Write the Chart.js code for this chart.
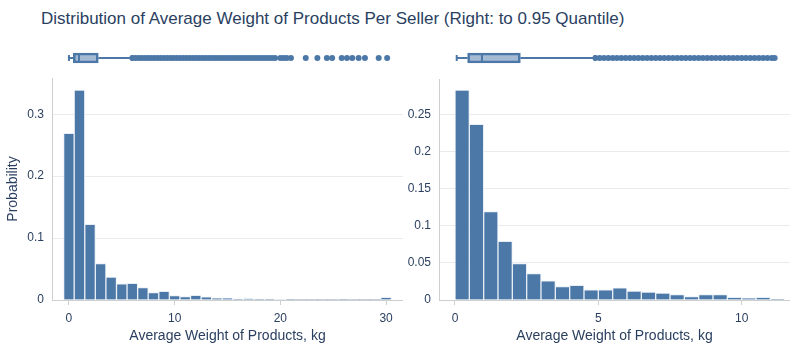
<!DOCTYPE html>
<html>
<head>
<meta charset="utf-8">
<script src="https://cdn.jsdelivr.net/npm/chart.js@4.4.0/dist/chart.umd.min.js"></script>
<style>
  body { margin: 0; background: #fff; width: 800px; height: 350px; position: relative; overflow: hidden;
         font-family: "Liberation Sans", Arial, sans-serif; }
  #title { position: absolute; left: 41px; top: 9px; font-size: 17px; line-height: 20px; color: #2a3f5f; white-space: nowrap; }
  .panel { position: absolute; }
</style>
</head>
<body>
<div id="title">Distribution of Average Weight of Products Per Seller (Right: to 0.95 Quantile)</div>
<div class="panel" style="left:52px;top:40px;width:351px;height:36px"><canvas id="boxLeft"></canvas></div>
<div class="panel" style="left:439px;top:40px;width:351px;height:36px"><canvas id="boxRight"></canvas></div>
<div class="panel" style="left:0;top:70px;width:403px;height:280px"><canvas id="histLeft"></canvas></div>
<div class="panel" style="left:400px;top:70px;width:390px;height:280px"><canvas id="histRight"></canvas></div>
<script>
// left panel: all sellers, 1 kg bins
const leftBins = [0, 1, 2, 3, 4, 5, 6, 7, 8, 9, 10, 11, 12, 13, 14, 15, 16, 17, 18, 19, 20,
  21, 22, 23, 24, 25, 26, 27, 28, 29, 30];
const leftProb = [0.269, 0.339, 0.122, 0.059, 0.037, 0.026, 0.027, 0.020, 0.012, 0.014, 0.007,
  0.0055, 0.0075, 0.0053, 0.0027, 0.003, 0.001, 0.002, 0.0012, 0.0015, 0.0008,
  0.0012, 0, 0, 0, 0, 0.0005, 0, 0, 0, 0.0045];
const leftXTicks = [0, 10, 20, 30];
const leftYTicks = [0, 0.1, 0.2, 0.3];
const leftBox = { lo: 0, q1: 0.41, med: 0.95, q3: 2.78, hi: 5.95 };
const leftOutliers = [6.0, 6.3, 6.6, 6.9, 7.2, 7.5, 7.8, 8.1, 8.4, 8.7, 9.0, 9.3, 9.6, 9.9, 10.2,
  10.5, 10.8, 11.1, 11.4, 11.7, 12.0, 12.3, 12.6, 12.9, 13.2, 13.5, 13.8, 14.1, 14.4, 14.7, 15.0,
  15.3, 15.6, 15.9, 16.2, 16.5, 16.8, 17.1, 17.4, 17.7, 18.0, 18.3, 18.6, 18.9, 19.2, 19.5,
  20.0, 20.3, 20.6, 21.0, 22.4, 23.5, 24.4, 24.9, 25.8, 26.3, 26.8, 27.4, 28.0, 29.3, 30.1];

// right panel: up to the 0.95 quantile, 0.5 kg bins
const rightBins = [0.25, 0.75, 1.25, 1.75, 2.25, 2.75, 3.25, 3.75, 4.25, 4.75, 5.25, 5.75,
  6.25, 6.75, 7.25, 7.75, 8.25, 8.75, 9.25, 9.75, 10.25, 10.75, 11.25];
const rightProb = [0.2836, 0.2374, 0.1194, 0.0791, 0.0492, 0.0357, 0.0258, 0.018, 0.0198, 0.0136,
  0.0136, 0.0163, 0.0122, 0.0108, 0.0095, 0.0072, 0.0045, 0.0072, 0.0072, 0.0036, 0.0022, 0.0036, 0.0008];
const rightXTicks = [0, 5, 10];
const rightYTicks = [0, 0.05, 0.1, 0.15, 0.2, 0.25];
const rightBox = { lo: 0.06, q1: 0.44, med: 0.94, q3: 2.28, hi: 4.88 };
const rightOutliers = [4.9, 5.05, 5.2, 5.35, 5.5, 5.65, 5.8, 5.95, 6.1, 6.25, 6.4, 6.55, 6.7, 6.85,
  7.0, 7.15, 7.3, 7.45, 7.6, 7.75, 7.9, 8.05, 8.2, 8.35, 8.5, 8.65, 8.8, 8.95, 9.1, 9.25, 9.4,
  9.55, 9.7, 9.85, 10.0, 10.15, 10.3, 10.45, 10.6, 10.75, 10.9, 11.05, 11.15];

const BLUE = '#4c78a8';
const BOX_FILL = 'rgba(76, 120, 168, 0.5)';
const TEXT = '#2a3f5f';
const AXIS = '#cfcfcf';
const GRID = '#ebebeb';

Chart.defaults.font.family = '"Liberation Sans", Arial, sans-serif';
Chart.defaults.color = TEXT;

function histChart(id, bins, probs, xr, xTicks, yMax, yTicks, yWidth, padTop, yTitle) {
  return new Chart(document.getElementById(id), {
    type: 'bar',
    data: {
      datasets: [{
        data: bins.map((b, i) => ({ x: b, y: probs[i] })),
        backgroundColor: BLUE,
        borderColor: 'rgba(230, 236, 244, 0.9)',
        borderWidth: ctx => (ctx.raw && ctx.raw.y > 0 ? 1 : 0),
        barPercentage: 1,
        categoryPercentage: 1
      }]
    },
    options: {
      responsive: true,
      maintainAspectRatio: false,
      animation: false,
      layout: { padding: { top: padTop, right: 0, bottom: 0, left: 0 } },
      plugins: { legend: { display: false }, tooltip: { enabled: false } },
      scales: {
        x: {
          type: 'linear', min: xr[0], max: xr[1], offset: false,
          afterBuildTicks: s => { s.ticks = xTicks.map(v => ({ value: v })); },
          afterFit: s => { s.height = 50; s.paddingLeft = 0; s.paddingRight = 0; },
          grid: { offset: false, drawOnChartArea: false, drawTicks: true, tickLength: 5, color: AXIS },
          border: { display: true, color: AXIS },
          ticks: { padding: 6, maxRotation: 0, font: { size: 12 }, callback: v => String(v) },
          title: { display: true, text: 'Average Weight of Products, kg', font: { size: 14 },
                   padding: { top: 0, bottom: 5 } }
        },
        y: {
          min: 0, max: yMax,
          afterBuildTicks: s => { s.ticks = yTicks.map(v => ({ value: v })); },
          afterFit: s => { s.width = yWidth; s.paddingTop = 0; s.paddingBottom = 0; },
          grid: { color: GRID, drawTicks: false },
          border: { display: true, color: AXIS },
          ticks: { padding: 8, font: { size: 12 }, callback: v => String(v) },
          title: { display: !!yTitle, text: yTitle || '', font: { size: 14 }, padding: { top: 5, bottom: 0 } }
        }
      }
    }
  });
}

function boxChart(id, box, outliers, xr) {
  const at = v => ({ x: v, y: 'box' });
  return new Chart(document.getElementById(id), {
    type: 'bar',
    data: {
      labels: ['box'],
      datasets: [
        { type: 'scatter', data: outliers.map(at), pointRadius: 3, pointBackgroundColor: BLUE,
          pointBorderWidth: 0, order: 0 },
        { type: 'scatter', data: [at(box.med)], pointStyle: 'line', rotation: 90, pointRadius: 5,
          pointBorderColor: BLUE, pointBorderWidth: 2, order: 0 },
        { type: 'bar', data: [[box.q1, box.q3]], backgroundColor: BOX_FILL, borderColor: BLUE,
          borderWidth: 2, borderSkipped: false, barThickness: 10, order: 1 },
        { type: 'line', data: [at(box.lo), at(box.q1)], borderColor: BLUE, borderWidth: 2,
          pointRadius: 0, order: 2 },
        { type: 'line', data: [at(box.q3), at(box.hi)], borderColor: BLUE, borderWidth: 2,
          pointRadius: 0, order: 2 },
        { type: 'scatter', data: [at(box.lo), at(box.hi)], pointStyle: 'line', rotation: 90,
          pointRadius: 3, pointBorderColor: BLUE, pointBorderWidth: 2, order: 2 }
      ]
    },
    options: {
      indexAxis: 'y',
      responsive: true,
      maintainAspectRatio: false,
      animation: false,
      layout: { padding: 0, autoPadding: false },
      plugins: { legend: { display: false }, tooltip: { enabled: false } },
      scales: {
        x: { type: 'linear', display: false, min: xr[0], max: xr[1], offset: false, grace: 0 },
        y: { type: 'category', display: false }
      }
    }
  });
}

histChart('histLeft', leftBins, leftProb, [-1.6, 31.6], leftXTicks, 0.3585, leftYTicks, 52, 8, 'Probability');
histChart('histRight', rightBins, rightProb, [-0.558, 11.686], rightXTicks, 0.2985, rightYTicks, 39, 9, '');
boxChart('boxLeft', leftBox, leftOutliers, [-1.6, 31.6]);
boxChart('boxRight', rightBox, rightOutliers, [-0.558, 11.686]);
</script>
</body>
</html>
